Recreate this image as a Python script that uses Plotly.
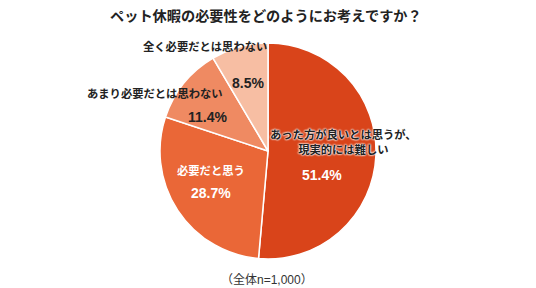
import plotly.graph_objects as go

title = "ペット休暇の必要性をどのようにお考えですか？"
categories = ["あった方が良いとは思うが、<br>現実的には難しい", "必要だと思う", "あまり必要だとは思わない", "全く必要だとは思わない"]
values = [51.4, 28.7, 11.4, 8.5]
colors = ["#D9441A", "#EA6737", "#EF8A62", "#F7BEA3"]
note = "（全体n=1,000）"

FONT = "Liberation Sans, Noto Sans CJK JP"
W, H = 536, 288

fig = go.Figure(go.Pie(
    labels=categories, values=values, sort=False, direction="clockwise", rotation=0,
    marker=dict(colors=colors, line=dict(color="white", width=1.5)),
    textinfo="none", hoverinfo="label+percent",
    domain=dict(x=[(268-108)/W, (268+108)/W], y=[(137-108)/H, (137+108)/H]),
    showlegend=False,
))

def px(x, y):
    return x / W, 1 - y / H

anns = []
def add(text, x, y, color="#222222", size=11.3, shadow="none", weight="bold"):
    ax, ay = px(x, y)
    anns.append(dict(text=text, x=ax, y=ay, xref="paper", yref="paper", showarrow=False,
                     xanchor="center", yanchor="middle",
                     font=dict(family=FONT, size=size, color=color, weight=weight, shadow=shadow)))

halo = "0 0 2px white, 0 0 2px white, 0 0 2px white"
add(title, 266, 16, size=14.2)
add(categories[0], 343, 142, shadow=halo)
add(f"{values[0]}%", 322, 175, color="white", size=14)
add(categories[1], 211, 170, color="white")
add(f"{values[1]}%", 211, 193, color="white", size=14)
add(categories[2], 155, 93)
add(f"{values[2]}%", 207, 117, size=14)
add(categories[3], 205, 47)
add(f"{values[3]}%", 248, 83, size=14)
add(note, 267, 280, color="#333333", size=12, weight="normal")

fig.update_layout(width=W, height=H, margin=dict(l=0, r=0, t=0, b=0),
                  paper_bgcolor="white", plot_bgcolor="white", annotations=anns)
fig.write_html("out.html")
